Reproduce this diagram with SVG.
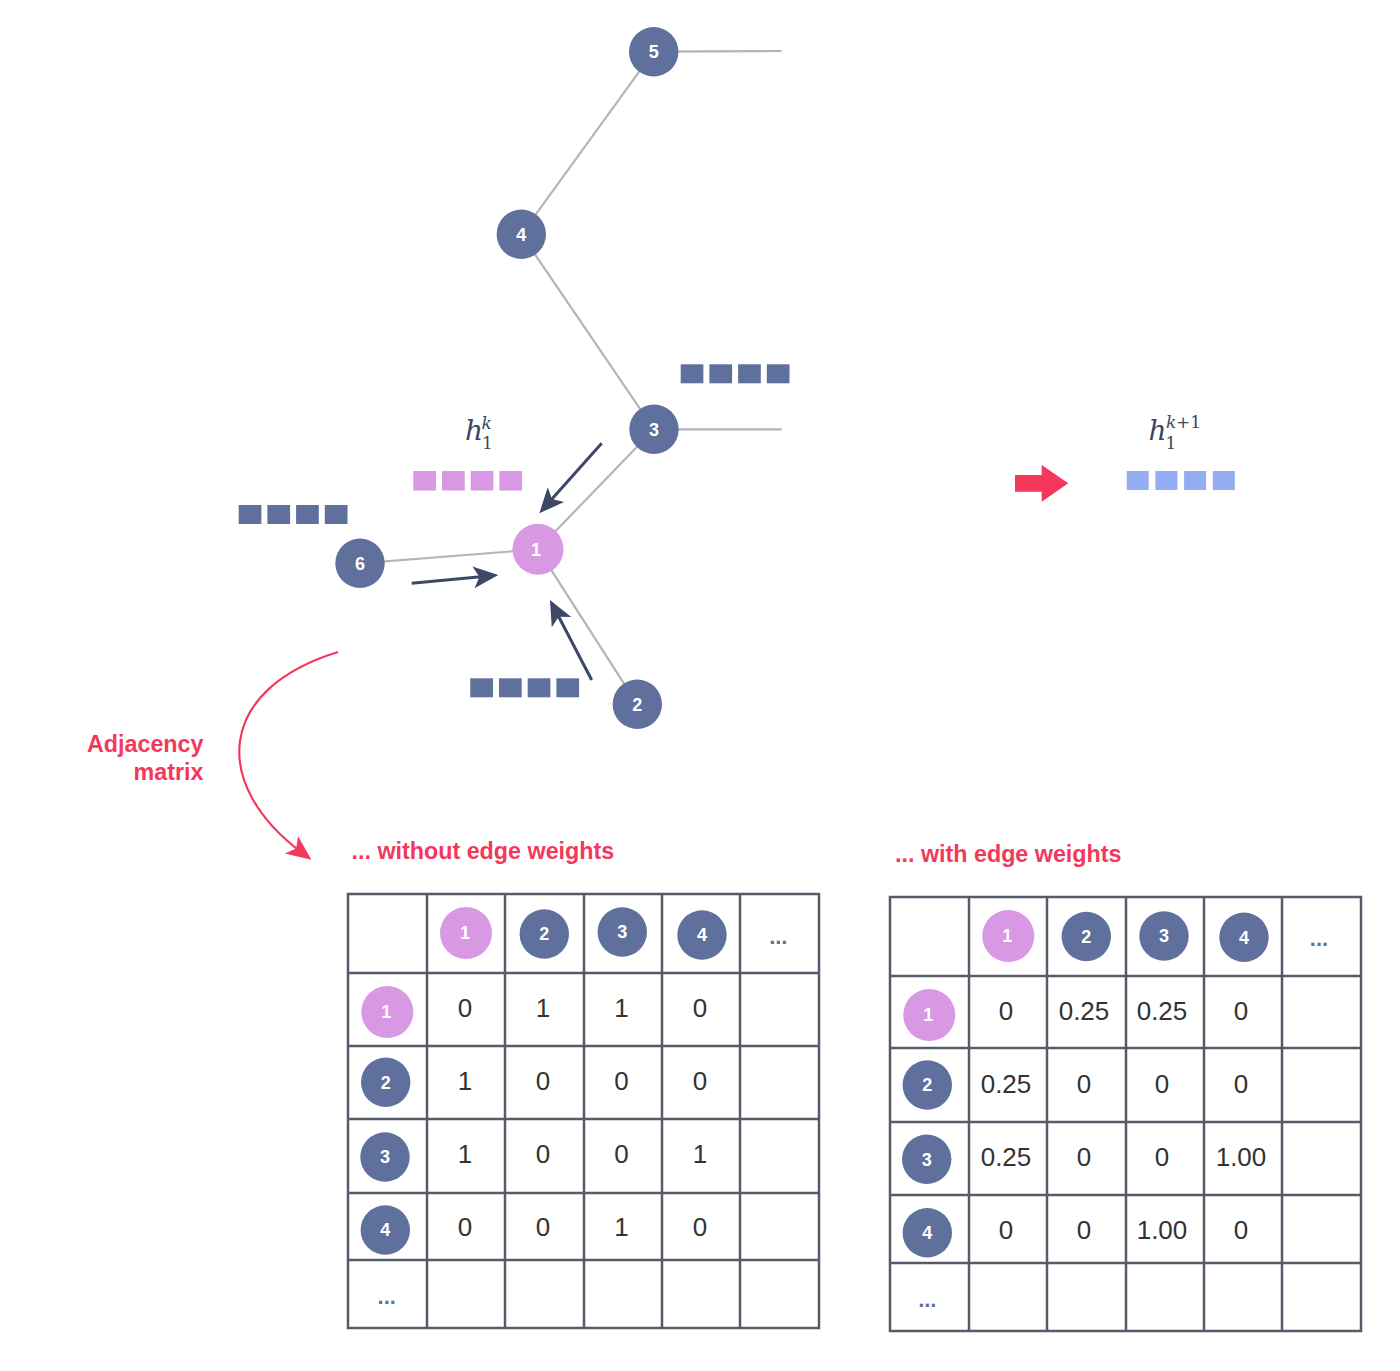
<svg xmlns="http://www.w3.org/2000/svg" width="1400" height="1371" viewBox="0 0 1400 1371">
<style>
.edge{stroke:#b5b5b5;stroke-width:2.2;fill:none}
.nb{fill:#60709d}
.np{fill:#d898e3}
.nl{font-family:"Liberation Sans",Arial,sans-serif;font-weight:bold;font-size:18px;fill:#ffffff;text-anchor:middle}
.sqb{fill:#60709d}
.sqp{fill:#d898e3}
.sql{fill:#94adf2}
.msg{stroke:#3d4866;stroke-width:3;fill:none}
.red{fill:#f4385c}
.rl{font-family:"Liberation Sans",Arial,sans-serif;font-weight:bold;font-size:23.3px;fill:#f4385c}
.grid{stroke:#555b68;stroke-width:2.5;fill:none}
.num{font-family:"Liberation Sans",Arial,sans-serif;font-size:26px;fill:#333333;text-anchor:middle}
.dots{font-family:"Liberation Sans",Arial,sans-serif;font-weight:bold;font-size:22px;fill:#60709d;text-anchor:middle}
.math{font-family:"DejaVu Serif","Liberation Serif",serif;font-style:italic;fill:#3a4560}
.mathr{font-family:"DejaVu Serif","Liberation Serif",serif;fill:#3a4560}
</style>
<defs>
<marker id="ah" markerUnits="userSpaceOnUse" markerWidth="30" markerHeight="26" viewBox="-26 -13 28 26" refX="-15" refY="0" orient="auto">
<path d="M0,0 L-25,-11 L-19,0 L-25,11 Z" fill="#3d4866"/>
</marker>
<marker id="ahr" markerUnits="userSpaceOnUse" markerWidth="30" markerHeight="26" viewBox="-26 -13 28 26" refX="-13" refY="0" orient="auto">
<path d="M0,0 L-25,-11 L-19,0 L-25,11 Z" fill="#f4385c"/>
</marker>
</defs>
<rect width="1400" height="1371" fill="#ffffff"/>

<g id="connectors">
<line class="edge" x1="653.7" y1="51.7" x2="781.7" y2="51"/>
<line class="edge" x1="653.7" y1="51.7" x2="521.3" y2="234.3"/>
<line class="edge" x1="521.3" y1="234.3" x2="654" y2="429.3"/>
<line class="edge" x1="654" y1="429.3" x2="781.7" y2="429.3"/>
<line class="edge" x1="654" y1="429.3" x2="538" y2="549.3"/>
<line class="edge" x1="538" y1="549.3" x2="360" y2="563.3"/>
<line class="edge" x1="538" y1="549.3" x2="637.3" y2="704.3"/>
<line class="msg" x1="411.7" y1="583.3" x2="483.4" y2="576.4" marker-end="url(#ah)"/>
<line class="msg" x1="601.7" y1="443.3" x2="549.3" y2="502.1" marker-end="url(#ah)"/>
<line class="msg" x1="591.7" y1="680" x2="556.9" y2="613.3" marker-end="url(#ah)"/>
<path d="M338,652 C215,690 212,785 301,852" fill="none" stroke="#f4385c" stroke-width="2.2" marker-end="url(#ahr)"/>
<polygon class="red" points="1015,475 1041.7,475 1041.7,465 1068.3,483.3 1041.7,501.7 1041.7,491.7 1015,491.7"/>
</g>

<g id="node5"><circle class="nb" cx="653.7" cy="51.7" r="24.7"/><text class="nl" x="653.7" y="58">5</text></g>
<g id="node4"><circle class="nb" cx="521.3" cy="234.3" r="24.7"/><text class="nl" x="521.3" y="240.6">4</text></g>
<g id="node3"><circle class="nb" cx="654" cy="429.3" r="24.7"/><text class="nl" x="654" y="435.6">3</text></g>
<g id="node1"><circle class="np" cx="538" cy="549.3" r="25.5"/><text class="nl" x="536" y="555.6">1</text></g>
<g id="node6"><circle class="nb" cx="360" cy="563.3" r="24.7"/><text class="nl" x="360" y="569.6">6</text></g>
<g id="node2"><circle class="nb" cx="637.3" cy="704.3" r="24.7"/><text class="nl" x="637.3" y="710.6">2</text></g>

<g id="vec3">
<rect class="sqb" x="680.7" y="364.3" width="22.7" height="19"/>
<rect class="sqb" x="709.4" y="364.3" width="22.7" height="19"/>
<rect class="sqb" x="738.1" y="364.3" width="22.7" height="19"/>
<rect class="sqb" x="766.8" y="364.3" width="22.7" height="19"/>
</g>
<g id="vec6">
<rect class="sqb" x="238.7" y="505" width="22.7" height="19"/>
<rect class="sqb" x="267.4" y="505" width="22.7" height="19"/>
<rect class="sqb" x="296.1" y="505" width="22.7" height="19"/>
<rect class="sqb" x="324.8" y="505" width="22.7" height="19"/>
</g>
<g id="vec2">
<rect class="sqb" x="470.3" y="678.3" width="22.7" height="19"/>
<rect class="sqb" x="499" y="678.3" width="22.7" height="19"/>
<rect class="sqb" x="527.7" y="678.3" width="22.7" height="19"/>
<rect class="sqb" x="556.4" y="678.3" width="22.7" height="19"/>
</g>
<g id="vec1">
<rect class="sqp" x="413.3" y="471" width="22.7" height="19.5"/>
<rect class="sqp" x="442" y="471" width="22.7" height="19.5"/>
<rect class="sqp" x="470.7" y="471" width="22.7" height="19.5"/>
<rect class="sqp" x="499.4" y="471" width="22.7" height="19.5"/>
</g>
<g id="vec1next">
<rect class="sql" x="1126.7" y="471" width="22" height="19"/>
<rect class="sql" x="1155.4" y="471" width="22" height="19"/>
<rect class="sql" x="1184.1" y="471" width="22" height="19"/>
<rect class="sql" x="1212.8" y="471" width="22" height="19"/>
</g>

<g id="label-hk">
<text class="math" x="465" y="439.5" font-size="28">h</text>
<text class="math" x="481.5" y="429" font-size="17">k</text>
<text class="mathr" x="482" y="448.5" font-size="17">1</text>
</g>
<g id="label-hk1">
<text class="math" x="1148.5" y="439.5" font-size="28">h</text>
<text class="math" x="1166" y="428" font-size="17">k</text>
<text class="mathr" x="1176" y="428" font-size="17">+1</text>
<text class="mathr" x="1165.5" y="448.5" font-size="17">1</text>
</g>

<g id="label-adj">
<text class="rl" x="203.5" y="752" text-anchor="end">Adjacency</text>
<text class="rl" x="203.5" y="780" text-anchor="end">matrix</text>
</g>
<g id="label-without"><text class="rl" x="351.5" y="858.5">... without edge weights</text></g>
<g id="label-with"><text class="rl" x="895" y="862">... with edge weights</text></g>

<g id="table-unweighted">
<rect class="grid" x="348" y="894" width="471" height="434"/>
<path class="grid" d="M427,894V1328M505,894V1328M584,894V1328M662,894V1328M740,894V1328M348,973H819M348,1046H819M348,1119H819M348,1193H819M348,1260H819"/>
<circle class="np" cx="466" cy="933" r="26"/><text class="nl" x="465" y="939.3">1</text>
<circle class="nb" cx="544.3" cy="934" r="24.7"/><text class="nl" x="544.3" y="940.3">2</text>
<circle class="nb" cx="622.3" cy="932" r="24.7"/><text class="nl" x="622.3" y="938.3">3</text>
<circle class="nb" cx="702" cy="935" r="24.7"/><text class="nl" x="702" y="941.3">4</text>
<text class="dots" x="778.3" y="944">...</text>
<circle class="np" cx="387.3" cy="1012" r="26"/><text class="nl" x="386.3" y="1018.3">1</text>
<circle class="nb" cx="385.7" cy="1082.3" r="24.7"/><text class="nl" x="385.7" y="1088.6">2</text>
<circle class="nb" cx="385" cy="1157" r="24.7"/><text class="nl" x="385" y="1163.3">3</text>
<circle class="nb" cx="385.3" cy="1230" r="24.7"/><text class="nl" x="385.3" y="1236.3">4</text>
<text class="dots" x="386.7" y="1304">...</text>
<text class="num" x="465" y="1016.5">0</text><text class="num" x="543" y="1016.5">1</text><text class="num" x="621.5" y="1016.5">1</text><text class="num" x="700" y="1016.5">0</text>
<text class="num" x="465" y="1089.5">1</text><text class="num" x="543" y="1089.5">0</text><text class="num" x="621.5" y="1089.5">0</text><text class="num" x="700" y="1089.5">0</text>
<text class="num" x="465" y="1162.5">1</text><text class="num" x="543" y="1162.5">0</text><text class="num" x="621.5" y="1162.5">0</text><text class="num" x="700" y="1162.5">1</text>
<text class="num" x="465" y="1236">0</text><text class="num" x="543" y="1236">0</text><text class="num" x="621.5" y="1236">1</text><text class="num" x="700" y="1236">0</text>
</g>

<g id="table-weighted">
<rect class="grid" x="890" y="897" width="471" height="434"/>
<path class="grid" d="M969,897V1331M1047,897V1331M1126,897V1331M1204,897V1331M1282,897V1331M890,976H1361M890,1048H1361M890,1122H1361M890,1195H1361M890,1263H1361"/>
<circle class="np" cx="1008.3" cy="936" r="26"/><text class="nl" x="1007.3" y="942.3">1</text>
<circle class="nb" cx="1086.3" cy="936.5" r="24.7"/><text class="nl" x="1086.3" y="942.8">2</text>
<circle class="nb" cx="1164" cy="936" r="24.7"/><text class="nl" x="1164" y="942.3">3</text>
<circle class="nb" cx="1244" cy="937.3" r="24.7"/><text class="nl" x="1244" y="943.6">4</text>
<text class="dots" x="1319" y="946">...</text>
<circle class="np" cx="929.3" cy="1015" r="26"/><text class="nl" x="928.3" y="1021.3">1</text>
<circle class="nb" cx="927.3" cy="1085" r="24.7"/><text class="nl" x="927.3" y="1091.3">2</text>
<circle class="nb" cx="926.7" cy="1159.3" r="24.7"/><text class="nl" x="926.7" y="1165.6">3</text>
<circle class="nb" cx="927.3" cy="1232.7" r="24.7"/><text class="nl" x="927.3" y="1239">4</text>
<text class="dots" x="927.3" y="1306.5">...</text>
<text class="num" x="1006" y="1019.5">0</text><text class="num" x="1084" y="1019.5">0.25</text><text class="num" x="1162" y="1019.5">0.25</text><text class="num" x="1241" y="1019.5">0</text>
<text class="num" x="1006" y="1092.5">0.25</text><text class="num" x="1084" y="1092.5">0</text><text class="num" x="1162" y="1092.5">0</text><text class="num" x="1241" y="1092.5">0</text>
<text class="num" x="1006" y="1165.5">0.25</text><text class="num" x="1084" y="1165.5">0</text><text class="num" x="1162" y="1165.5">0</text><text class="num" x="1241" y="1165.5">1.00</text>
<text class="num" x="1006" y="1238.5">0</text><text class="num" x="1084" y="1238.5">0</text><text class="num" x="1162" y="1238.5">1.00</text><text class="num" x="1241" y="1238.5">0</text>
</g>
</svg>
